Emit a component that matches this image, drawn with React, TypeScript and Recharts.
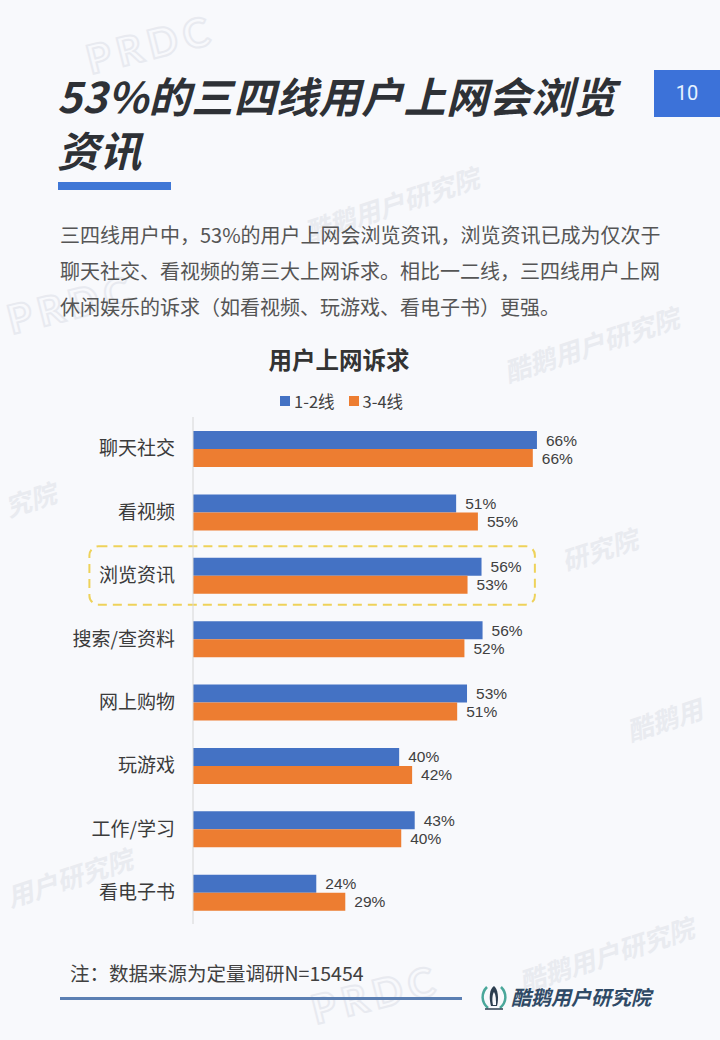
import React from "react";
import { BarChart, Bar, XAxis, YAxis, LabelList, ReferenceArea } from "recharts";

// 用户上网诉求 — values (labels are rounded)
const categories = ["聊天社交", "看视频", "浏览资讯", "搜索/查资料", "网上购物", "玩游戏", "工作/学习", "看电子书"];
const tier12 = [66.4, 50.8, 55.7, 55.9, 52.9, 39.8, 42.8, 23.8];
const tier34 = [65.6, 55.0, 53.0, 52.4, 51.0, 42.3, 40.2, 29.4];
const seriesNames = ["1-2线", "3-4线"];
const highlighted = "浏览资讯";

const BLUE = "#4472C4";
const ORANGE = "#ED7D31";
const CJK = '"Noto Sans CJK SC", "Noto Sans", sans-serif';

const data = categories.map((name, i) => ({ name, t12: tier12[i], t34: tier34[i] }));
const legend = [
  { name: seriesNames[0], color: BLUE },
  { name: seriesNames[1], color: ORANGE },
];

const pct = (v: any) => `${Math.round(Number(v))}%`;

function HighlightBox(props: any) {
  const { x, y, width, height } = props;
  return (
    <rect
      x={x}
      y={y + 2.5}
      width={width}
      height={height - 5}
      rx={9}
      ry={9}
      fill="none"
      stroke="#eed25a"
      strokeWidth={2}
      strokeDasharray="9 6"
    />
  );
}

const marks: [string, number, number, number, number][] = [
  ["酷鹅用户研究院", 300, 185, 26, -18],
  ["酷鹅用户研究院", 500, 325, 26, -18],
  ["究院", 4, 480, 26, -18],
  ["研究院", 560, 530, 26, -18],
  ["酷鹅用", 625, 700, 26, -18],
  ["用户研究院", 4, 858, 26, -18],
  ["酷鹅用户研究院", 515, 935, 26, -18],
];

function Watermarks() {
  return (
    <>
      {marks.map(([t, x, y, s, r], i) => (
        <div
          key={i}
          style={{
            position: "absolute",
            left: x,
            top: y,
            fontSize: s,
            fontWeight: 700,
            fontStyle: "italic",
            color: "#e9ebf0",
            transform: `rotate(${r}deg)`,
            whiteSpace: "nowrap",
          }}
        >
          {t}
        </div>
      ))}
      {[
        [85, 22],
        [310, 972],
        [6, 282],
      ].map(([x, y], i) => (
        <div
          key={"p" + i}
          style={{
            position: "absolute",
            left: x,
            top: y,
            fontSize: 40,
            lineHeight: "44px",
            fontFamily: "Lato, sans-serif",
            fontWeight: 700,
            color: "transparent",
            WebkitTextStroke: "2px #e8eaf0",
            letterSpacing: 6,
            transform: "rotate(-14deg)",
          }}
        >
          PRDC
        </div>
      ))}
    </>
  );
}

export default function App() {
  return (
    <div
      style={{
        position: "absolute",
        left: 0,
        top: 0,
        width: 720,
        height: 1040,
        overflow: "hidden",
        background: "#f8f9fc",
        fontFamily: CJK,
      }}
    >
      <Watermarks />

      {/* title */}
      <div
        style={{
          position: "absolute",
          left: 57,
          top: 75,
          fontSize: 42,
          lineHeight: "40px",
          fontWeight: 700,
          fontStyle: "italic",
          letterSpacing: 0.5,
          color: "#2e3136",
          whiteSpace: "nowrap",
        }}
      >
        <div>53%的三四线用户上网会浏览</div>
        <div style={{ marginTop: 14 }}>资讯</div>
      </div>
      <div style={{ position: "absolute", left: 58, top: 182, width: 113, height: 8, background: "#3f77d6" }} />

      {/* page number */}
      <div
        style={{
          position: "absolute",
          left: 654,
          top: 70,
          width: 66,
          height: 47,
          background: "#3c72d9",
          color: "#e6f2ff",
          fontSize: 20,
          lineHeight: "47px",
          textAlign: "center",
          fontFamily: "Roboto, sans-serif",
        }}
      >
        10
      </div>

      {/* paragraph */}
      <div
        style={{
          position: "absolute",
          left: 60,
          top: 217,
          fontSize: 20,
          lineHeight: "36px",
          color: "#555",
          whiteSpace: "nowrap",
        }}
      >
        <div>三四线用户中，53%的用户上网会浏览资讯，浏览资讯已成为仅次于</div>
        <div>聊天社交、看视频的第三大上网诉求。相比一二线，三四线用户上网</div>
        <div>休闲娱乐的诉求（如看视频、玩游戏、看电子书）更强。</div>
      </div>

      {/* chart title */}
      <div
        style={{
          position: "absolute",
          left: 0,
          width: 678,
          top: 342,
          textAlign: "center",
          fontSize: 23.5,
          fontWeight: 700,
          color: "#333",
        }}
      >
        用户上网诉求
      </div>

      {/* legend */}
      <div
        style={{
          position: "absolute",
          left: 280,
          top: 390,
          display: "flex",
          alignItems: "center",
          fontSize: 16.5,
          color: "#404040",
          lineHeight: "22px",
        }}
      >
        {legend.map((l, i) => (
          <div key={l.name} style={{ display: "flex", alignItems: "center", marginRight: i === 0 ? 14 : 0 }}>
            <span style={{ width: 10, height: 10, background: l.color, display: "inline-block", marginRight: 4 }} />
            <span>{l.name}</span>
          </div>
        ))}
      </div>

      {/* chart */}
      <div style={{ position: "absolute", left: 0, top: 417 }}>
        <BarChart
          width={720}
          height={507}
          data={data}
          layout="vertical"
          margin={{ top: 0, right: 9, bottom: 0, left: 0 }}
          barSize={18}
          barGap={0}
        >
          <XAxis type="number" domain={[0, 100]} hide />
          <YAxis
            type="category"
            dataKey="name"
            width={193}
            interval={0}
            tickLine={false}
            tickSize={0}
            tickMargin={18}
            axisLine={{ stroke: "#d6d6d6" }}
            tick={{ fill: "#3b3b3b", fontSize: 19, fontFamily: CJK }}
          />
          <ReferenceArea
            y1={highlighted}
            y2={highlighted}
            x1={-20}
            x2={66}
            ifOverflow="visible"
            shape={HighlightBox}
          />
          <Bar dataKey="t12" name={seriesNames[0]} fill={BLUE} isAnimationActive={false}>
            <LabelList
              dataKey="t12"
              position="right"
              offset={9}
              formatter={pct}
              style={{ fill: "#404040", fontSize: 15.5, fontFamily: '"Liberation Sans", sans-serif' }}
            />
          </Bar>
          <Bar dataKey="t34" name={seriesNames[1]} fill={ORANGE} isAnimationActive={false}>
            <LabelList
              dataKey="t34"
              position="right"
              offset={9}
              formatter={pct}
              style={{ fill: "#404040", fontSize: 15.5, fontFamily: '"Liberation Sans", sans-serif' }}
            />
          </Bar>
        </BarChart>
      </div>

      {/* footer */}
      <div style={{ position: "absolute", left: 70, top: 958, fontSize: 19.5, color: "#404040", whiteSpace: "nowrap" }}>
        注：数据来源为定量调研N=15454
      </div>
      <div style={{ position: "absolute", left: 60, top: 997, width: 402, height: 3, background: "#5b7fb3" }} />
      <svg style={{ position: "absolute", left: 480, top: 983 }} width={28} height={28} viewBox="0 0 28 28">
        <path d="M7 4 C1 10 1 19 8 25" stroke="#4aa79a" strokeWidth={2.5} fill="none" />
        <path d="M21 4 C27 10 27 19 20 25" stroke="#4aa79a" strokeWidth={2.5} fill="none" />
        <path d="M14 3 C9 6 9 16 11 23 L17 23 C19 15 18 6 14 3 Z" fill="#2c3e50" />
        <path d="M14 9 C12 12 12 18 13 22 L16 22 C16 17 16 12 14 9 Z" fill="#f8f9fc" />
        <path d="M5 26 L23 26" stroke="#2c3e50" strokeWidth={1.5} />
      </svg>
      <div
        style={{
          position: "absolute",
          left: 511,
          top: 983,
          fontSize: 20,
          fontWeight: 700,
          fontStyle: "italic",
          color: "#2f4a66",
          whiteSpace: "nowrap",
          lineHeight: "28px",
        }}
      >
        酷鹅用户研究院
      </div>
    </div>
  );
}
